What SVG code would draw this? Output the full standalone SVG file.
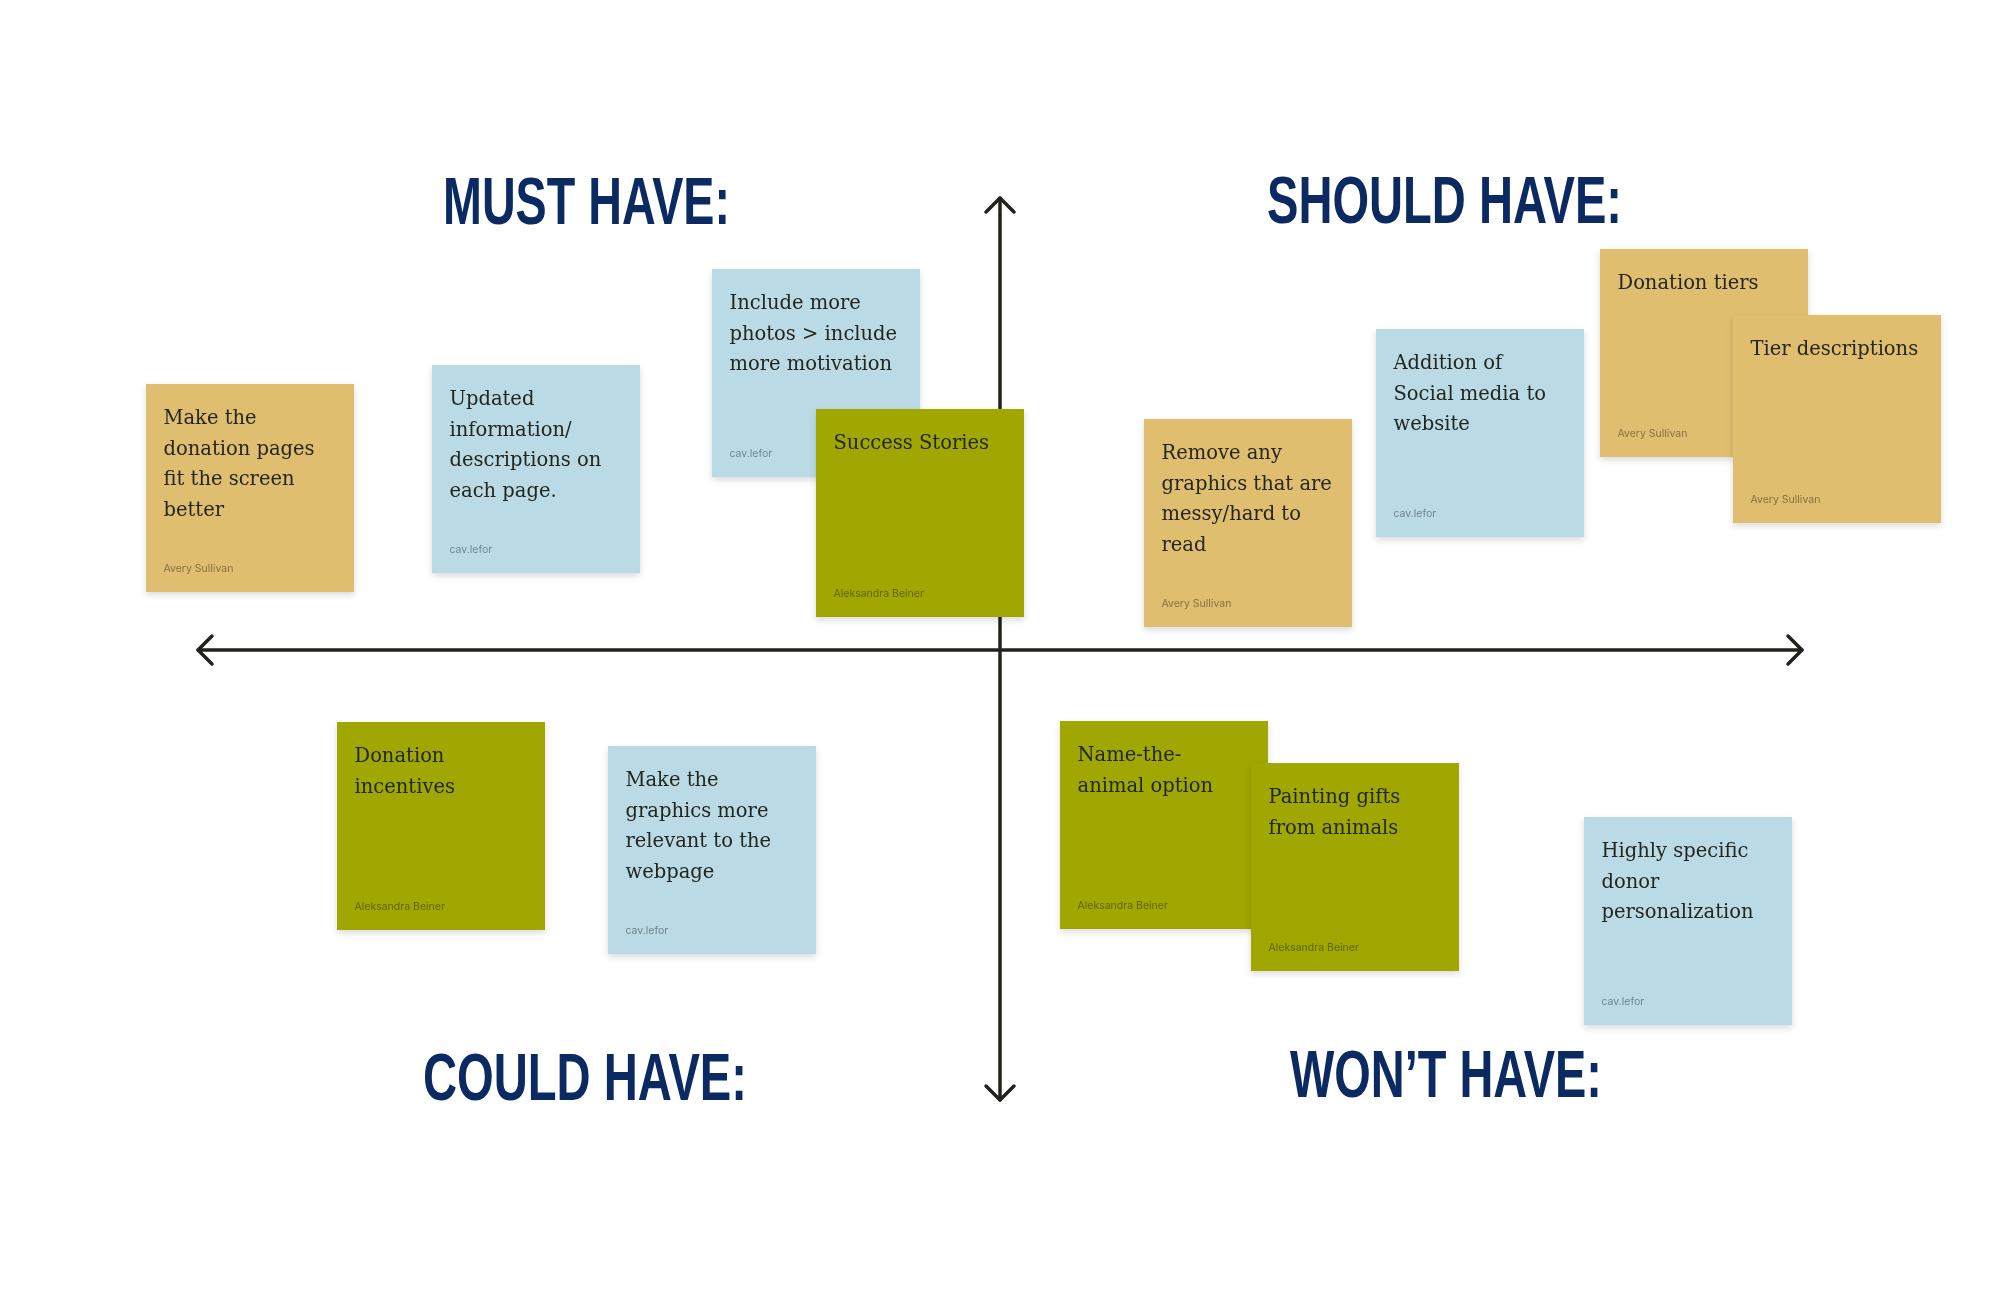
<svg xmlns="http://www.w3.org/2000/svg" width="2000" height="1300" viewBox="0 0 2000 1300">
<defs>
<filter id="sh" x="-10%" y="-10%" width="120%" height="125%">
<feDropShadow dx="0" dy="3" stdDeviation="3" flood-color="#000" flood-opacity="0.14"/>
</filter>
<style>
.title{font-family:"Liberation Sans Narrow","Liberation Sans",sans-serif;font-weight:bold;font-size:66px;fill:#0c2a62}
.n{filter:url(#sh)}
.y{fill:#e0be70}
.b{fill:#badbe5}
.g{fill:#9fa705}
.t{font-family:"DejaVu Serif","Liberation Serif",serif;font-size:19.5px;fill:#24251f}
.a{font-family:Inter,"Liberation Sans",sans-serif;font-size:10.5px;fill:#000;fill-opacity:0.42}
.ax{stroke:#22221c;stroke-width:3.5;fill:none;stroke-linecap:round;stroke-linejoin:round}
</style>
</defs>
<rect width="2000" height="1300" fill="#ffffff"/>
<g id="connectors">
<path class="ax" d="M1000 198 V1100"/>
<path class="ax" d="M986 212 L1000 198 L1014 212"/>
<path class="ax" d="M986 1086 L1000 1100 L1014 1086"/>
<path class="ax" d="M198 650 H1802"/>
<path class="ax" d="M212 636 L198 650 L212 664"/>
<path class="ax" d="M1788 636 L1802 650 L1788 664"/>
</g>
<g id="title-must"><text class="title" x="443" y="224" textLength="287" lengthAdjust="spacingAndGlyphs">MUST HAVE:</text></g>
<g id="title-should"><text class="title" x="1267" y="223" textLength="355" lengthAdjust="spacingAndGlyphs">SHOULD HAVE:</text></g>
<g id="title-could"><text class="title" x="423" y="1100" textLength="324" lengthAdjust="spacingAndGlyphs">COULD HAVE:</text></g>
<g id="title-wont"><text class="title" x="1290" y="1097" textLength="312" lengthAdjust="spacingAndGlyphs">WON’T HAVE:</text></g>

<g id="note-make-donation" class="n" transform="translate(146,384)">
<rect class="y" width="208" height="208"/>
<text class="t" x="17.5" y="40"><tspan x="17.5">Make the</tspan><tspan x="17.5" dy="30.5">donation pages</tspan><tspan x="17.5" dy="30.5">fit the screen</tspan><tspan x="17.5" dy="30.5">better</tspan></text>
<text class="a" x="17.5" y="188">Avery Sullivan</text>
</g>
<g id="note-updated" class="n" transform="translate(432,365)">
<rect class="b" width="208" height="208"/>
<text class="t" x="17.5" y="40"><tspan x="17.5">Updated</tspan><tspan x="17.5" dy="30.5">information/</tspan><tspan x="17.5" dy="30.5">descriptions on</tspan><tspan x="17.5" dy="30.5">each page.</tspan></text>
<text class="a" x="17.5" y="188">cav.lefor</text>
</g>
<g id="note-include-photos" class="n" transform="translate(712,269)">
<rect class="b" width="208" height="208"/>
<text class="t" x="17.5" y="40"><tspan x="17.5">Include more</tspan><tspan x="17.5" dy="30.5">photos &gt; include</tspan><tspan x="17.5" dy="30.5">more motivation</tspan></text>
<text class="a" x="17.5" y="188">cav.lefor</text>
</g>
<g id="note-success" class="n" transform="translate(816,409)">
<rect class="g" width="208" height="208"/>
<text class="t" x="17.5" y="40">Success Stories</text>
<text class="a" x="17.5" y="188">Aleksandra Beiner</text>
</g>
<g id="note-remove" class="n" transform="translate(1144,419)">
<rect class="y" width="208" height="208"/>
<text class="t" x="17.5" y="40"><tspan x="17.5">Remove any</tspan><tspan x="17.5" dy="30.5">graphics that are</tspan><tspan x="17.5" dy="30.5">messy/hard to</tspan><tspan x="17.5" dy="30.5">read</tspan></text>
<text class="a" x="17.5" y="188">Avery Sullivan</text>
</g>
<g id="note-social" class="n" transform="translate(1376,329)">
<rect class="b" width="208" height="208"/>
<text class="t" x="17.5" y="40"><tspan x="17.5">Addition of</tspan><tspan x="17.5" dy="30.5">Social media to</tspan><tspan x="17.5" dy="30.5">website</tspan></text>
<text class="a" x="17.5" y="188">cav.lefor</text>
</g>
<g id="note-tiers" class="n" transform="translate(1600,249)">
<rect class="y" width="208" height="208"/>
<text class="t" x="17.5" y="40">Donation tiers</text>
<text class="a" x="17.5" y="188">Avery Sullivan</text>
</g>
<g id="note-tier-desc" class="n" transform="translate(1733,315)">
<rect class="y" width="208" height="208"/>
<text class="t" x="17.5" y="40">Tier descriptions</text>
<text class="a" x="17.5" y="188">Avery Sullivan</text>
</g>
<g id="note-incentives" class="n" transform="translate(337,722)">
<rect class="g" width="208" height="208"/>
<text class="t" x="17.5" y="40"><tspan x="17.5">Donation</tspan><tspan x="17.5" dy="30.5">incentives</tspan></text>
<text class="a" x="17.5" y="188">Aleksandra Beiner</text>
</g>
<g id="note-graphics-relevant" class="n" transform="translate(608,746)">
<rect class="b" width="208" height="208"/>
<text class="t" x="17.5" y="40"><tspan x="17.5">Make the</tspan><tspan x="17.5" dy="30.5">graphics more</tspan><tspan x="17.5" dy="30.5">relevant to the</tspan><tspan x="17.5" dy="30.5">webpage</tspan></text>
<text class="a" x="17.5" y="188">cav.lefor</text>
</g>
<g id="note-name-animal" class="n" transform="translate(1060,721)">
<rect class="g" width="208" height="208"/>
<text class="t" x="17.5" y="40"><tspan x="17.5">Name-the-</tspan><tspan x="17.5" dy="30.5">animal option</tspan></text>
<text class="a" x="17.5" y="188">Aleksandra Beiner</text>
</g>
<g id="note-painting" class="n" transform="translate(1251,763)">
<rect class="g" width="208" height="208"/>
<text class="t" x="17.5" y="40"><tspan x="17.5">Painting gifts</tspan><tspan x="17.5" dy="30.5">from animals</tspan></text>
<text class="a" x="17.5" y="188">Aleksandra Beiner</text>
</g>
<g id="note-personalization" class="n" transform="translate(1584,817)">
<rect class="b" width="208" height="208"/>
<text class="t" x="17.5" y="40"><tspan x="17.5">Highly specific</tspan><tspan x="17.5" dy="30.5">donor</tspan><tspan x="17.5" dy="30.5">personalization</tspan></text>
<text class="a" x="17.5" y="188">cav.lefor</text>
</g>
</svg>
